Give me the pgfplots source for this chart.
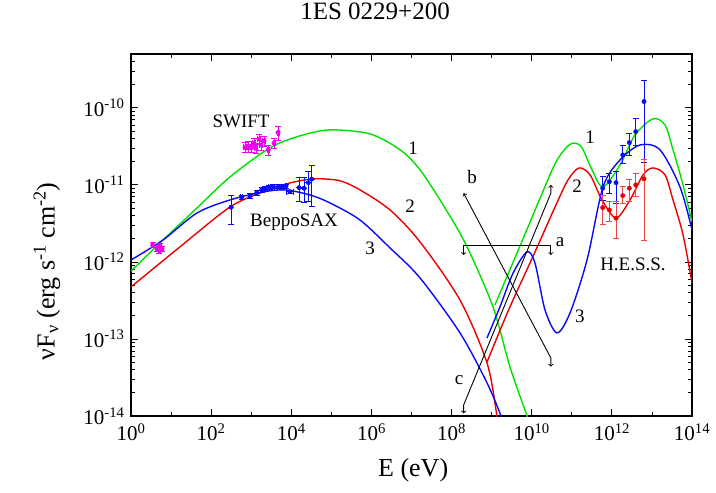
\documentclass[border=0pt]{standalone}
\usepackage{pgfplots}
\pgfplotsset{compat=1.18}
\usepackage{fontspec}
\setmainfont{Liberation Serif}
\definecolor{cgreen}{RGB}{0,225,0}
\definecolor{cred}{RGB}{235,0,0}
\definecolor{cblue}{RGB}{10,10,250}
\definecolor{cmag}{RGB}{240,0,240}
\definecolor{cred2}{RGB}{240,70,70}
\begin{document}
\begin{tikzpicture}
\begin{axis}[
  name=ax,
  scale only axis, width=561pt, height=362pt,
  xmode=log, ymode=log,
  xmin=1, xmax=1e14, ymin=1e-14, ymax=5e-10,
  xtick={1,1e2,1e4,1e6,1e8,1e10,1e12,1e14},
  xticklabels={10\textsuperscript{0},10\textsuperscript{2},10\textsuperscript{4},10\textsuperscript{6},10\textsuperscript{8},10\textsuperscript{10},10\textsuperscript{12},10\textsuperscript{14}},
  minor xtick={1e1,1e3,1e5,1e7,1e9,1e11,1e13},
  ytick={1e-14,1e-13,1e-12,1e-11,1e-10},
  yticklabels={10\textsuperscript{-14},10\textsuperscript{-13},10\textsuperscript{-12},10\textsuperscript{-11},10\textsuperscript{-10}},
  minor ytick={2e-14,3e-14,4e-14,5e-14,6e-14,7e-14,8e-14,9e-14,
               2e-13,3e-13,4e-13,5e-13,6e-13,7e-13,8e-13,9e-13,
               2e-12,3e-12,4e-12,5e-12,6e-12,7e-12,8e-12,9e-12,
               2e-11,3e-11,4e-11,5e-11,6e-11,7e-11,8e-11,9e-11,
               2e-10,3e-10,4e-10},
  tick align=inside,
  major tick length=7pt, minor tick length=4pt,
  every tick/.style={black, line width=0.8pt},
  axis line style={line width=1.3pt},
  tick label style={font=\fontsize{21}{24}\selectfont},
  xticklabel style={yshift=-4pt},
  yticklabel style={xshift=-3pt},
  label style={font=\fontsize{26}{30}\selectfont},
  xlabel={E (eV)},
  ylabel={νF\textsubscript{ν} (erg s\textsuperscript{-1} cm\textsuperscript{-2})},
  xlabel style={at={(axis description cs:0.503,-0.15)}, anchor=center},
  ylabel style={at={(axis description cs:-0.15,0.40)}, anchor=center},
  title={1ES 0229+200},
  title style={at={(axis description cs:0.435,1.10)}, anchor=center, font=\fontsize{25}{30}\selectfont},
  clip=true,
]
% ---- synchrotron curves ----
\addplot[cgreen, line width=1.4pt, smooth] coordinates {
 (1,7.6e-13) (6.3,1.93e-12) (44.4,5.02e-12) (296,1.27e-11) (2944,3.03e-11)
 (1.65e4,4.33e-11) (9.25e4,5.18e-11) (9.2e5,4.59e-11) (5.2e6,2.85e-11)
 (1.63e7,1.57e-11) (6.86e7,5.02e-12) (2.43e8,1.57e-12) (1.08e9,2.61e-13)
 (2.87e9,4.33e-14) (7.64e9,1e-14) (9.6e9,6.6e-15)};
\addplot[cred, line width=1.4pt, smooth] coordinates {
 (1,4.73e-13) (1.88,6.2e-13) (16.7,1.57e-12) (296,5.17e-12) (1968,8.1e-12)
 (9290,1.06e-11) (3.9e4,1.2e-11) (1.64e5,1.13e-11) (5.19e5,8.6e-12)
 (2.91e6,4.73e-12) (1.63e7,1.82e-12) (1.62e8,3.2e-13) (7.67e8,4.87e-14)
 (1.36e9,1e-14) (1.53e9,7e-15)};
\addplot[cblue, line width=1.4pt, smooth] coordinates {
 (1,1.06e-12) (6.3,1.93e-12) (44.4,4.32e-12) (296,6.38e-12) (1968,8.1e-12)
 (6970,8.6e-12) (2.93e4,7.4e-12) (9.25e4,5.83e-12) (5.19e5,3.5e-12)
 (2.91e6,1.52e-12) (1.63e7,6.2e-13) (1.62e8,1.2e-13) (7.67e8,2.69e-14)
 (1.71e9,1e-14) (1.92e9,7.4e-15)};
% ---- inverse Compton curves ----
\addplot[cgreen, line width=1.4pt, smooth] coordinates {
 (1.21e9,2.77e-13) (5.1e9,1.61e-12) (1.61e10,6.68e-12) (3.82e10,1.88e-11)
 (7.18e10,3.03e-11) (1.14e11,3.5e-11) (1.8e11,3.03e-11) (3.2e11,1.57e-11)
 (6.02e11,9.4e-12) (1.6e12,1.82e-11) (3.79e12,4.46e-11) (1.06e13,7.2e-11)
 (2.12e13,6.0e-11) (3.36e13,2.85e-11) (5.97e13,1e-11) (1e14,3.3e-12)};
\addplot[cred, line width=1.4pt, smooth] coordinates {
 (7.67e8,5.02e-14) (2.72e9,2.46e-13) (1.21e10,1.35e-12) (3.82e10,5.17e-12)
 (8.05e10,1.16e-11) (1.52e11,1.66e-11) (2.85e11,1.35e-11) (5.68e11,6.38e-12)
 (1.27e12,3.72e-12) (2.84e12,6.38e-12) (6.0e12,1.35e-11) (1.06e13,1.66e-11)
 (2.12e13,1.35e-11) (3.36e13,6.38e-12) (5.97e13,2.25e-12) (1e14,5.33e-13)};
\addplot[cblue, line width=1.4pt, smooth] coordinates {
 (7.67e8,1.03e-13) (1.62e9,2.63e-13) (3.41e9,7.13e-13) (7.64e9,1.35e-12)
 (1.21e10,9.6e-13) (2.15e10,2.38e-13) (4.28e10,1.2e-13) (9.04e10,2.18e-13)
 (2.4e11,1.06e-12) (6.02e11,9.4e-12) (1.6e12,2.11e-11) (5.05e12,3.3e-11)
 (1.59e13,2.85e-11) (5.02e13,9.4e-12) (1e14,2.61e-12)};
% ---- SWIFT ----
\addplot[cmag, only marks, mark=*, mark size=2.2pt,
  error bars/.cd, y dir=both, y explicit relative, x dir=both, x explicit relative,
  error bar style={line width=0.9pt, cmag}, error mark options={rotate=90, mark size=3pt, line width=0.9pt, cmag}]
 table[x=x, y=y, x error=ex, y error=ey] {
 x y ex ey
 3.48 1.66e-12 0.06 0.08
 4.46 1.48e-12 0.06 0.08
 5.14 1.39e-12 0.06 0.08
 5.94 1.48e-12 0.06 0.08
 5.3 1.61e-12 0.06 0.08
 700 3.06e-11 0.06 0.15
 846 3.14e-11 0.06 0.15
 1028 3.14e-11 0.06 0.15
 1175 3.48e-11 0.06 0.15
 1318 3.0e-11 0.06 0.15
 1565 3.93e-11 0.06 0.15
 1755 3.3e-11 0.06 0.15
 2085 3.72e-11 0.06 0.15
 2670 2.85e-11 0.06 0.15
 3710 3.48e-11 0.06 0.15
 4670 4.78e-11 0.06 0.2
};
% ---- BeppoSAX ----
\addplot[cblue, only marks, mark=*, mark size=2.2pt,
  error bars/.cd, y dir=both, y explicit relative, x dir=both, x explicit relative,
  error bar style={line width=0.9pt, cblue}, error mark options={rotate=90, mark size=3pt, line width=0.9pt, cblue}]
 table[x=x, y=y, x error=ex, y error plus=ep, y error minus=em] {
 x y ex ep em
 313 5.13e-12 0 0.44 0.41
 579 6.92e-12 0.05 0.07 0.07
 933 7.19e-12 0.05 0.07 0.07
 1371 7.94e-12 0.05 0.07 0.07
 1828 8.6e-12 0.05 0.07 0.07
 2208 8.95e-12 0.05 0.06 0.06
 2827 9.33e-12 0.05 0.06 0.06
 3557 9.5e-12 0.05 0.06 0.06
 4745 9.5e-12 0.05 0.06 0.06
 5866 9.5e-12 0.05 0.06 0.06
 7383 9.7e-12 0.05 0.06 0.06
 9290 8.18e-12 0.2 0.05 0.05
 1.56e4 9.22e-12 0 0.37 0.34
 2.08e4 9.06e-12 0 0.37 0.34
 2.66e4 1.07e-11 0 0.39 0.43
 3.23e4 1.19e-11 0 0.49 0.56
};
% ---- H.E.S.S. ----
\addplot[cblue, only marks, mark=*, mark size=2.2pt,
  error bars/.cd, y dir=both, y explicit relative,
  error bar style={line width=0.9pt, cblue}, error mark options={rotate=90, mark size=3pt, line width=0.9pt, cblue}]
 table[x=x, y=y, y error plus=ep, y error minus=em] {
 x y ep em
 5.91e11 9.06e-12 0.41 0.30
 8.65e11 1.1e-11 0.29 0.29
 1.27e12 1.07e-11 0.39 0.46
 1.87e12 2.45e-11 0.31 0.22
 2.73e12 3.54e-11 0.30 0.31
 3.94e12 4.92e-11 0.49 0.33
 6.35e12 1.21e-10 0.85 0.84
};
\addplot[cred, only marks, mark=*, mark size=2.2pt,
  error bars/.cd, y dir=both, y explicit relative,
  error bar style={line width=0.9pt, cred2}, error mark options={rotate=90, mark size=3pt, line width=0.9pt, cred2}]
 table[x=x, y=y, y error plus=ep, y error minus=em] {
 x y ep em
 5.91e11 5.07e-12 0.46 0.40
 8.65e11 4.73e-12 0.28 0.30
 1.27e12 3.7e-12 0.64 0.45
 1.87e12 7.26e-12 0.31 0.20
 2.73e12 9.06e-12 0.28 0.32
 3.94e12 1.0e-11 0.42 0.30
 6.35e12 1.2e-11 0.76 0.84
};
% ---- annotation arrows ----
\addplot[black, line width=0.9pt, <->] coordinates {(2e8,1.23e-12) (2e8,1.63e-12) (3e10,1.63e-12) (3e10,1.23e-12)};
\addplot[black, line width=0.9pt, <->] coordinates {(2e8,7.8e-12) (3e10,5.67e-14) (3e10,4.37e-14)};
\addplot[black, line width=0.9pt, <->] coordinates {(2e8,1.08e-14) (2e8,1.39e-14) (3e10,7.8e-12) (3e10,1e-11)};
% ---- labels ----
\begin{scope}[every node/.style={font=\fontsize{19}{22}\selectfont}]
\node at (axis cs:5.1e10,1.82e-12) {a};
\node at (axis cs:3.24e8,1.27e-11) {b};
\node at (axis cs:1.54e8,2.94e-14) {c};
\node at (axis cs:1.09e7,3.03e-11) {1};
\node at (axis cs:9.18e6,5.33e-12) {2};
\node at (axis cs:9.22e5,1.52e-12) {3};
\node at (axis cs:2.85e11,4.2e-11) {1};
\node at (axis cs:1.35e11,9.7e-12) {2};
\node at (axis cs:1.6e11,1.99e-13) {3};
\node at (axis cs:556,6.78e-11) {SWIFT};
\node at (axis cs:1.17e4,3.3e-12) {BeppoSAX};
\node at (axis cs:3.37e12,9.42e-13) {H.E.S.S.};
\end{scope}
\coordinate (bl) at (rel axis cs:0,0);
\coordinate (tr) at (rel axis cs:1,1);
\end{axis}
\pgfresetboundingbox
\path ([shift={(-131pt,-76pt)}]bl) rectangle ([shift={(24pt,54pt)}]tr);
\end{tikzpicture}
\end{document}
